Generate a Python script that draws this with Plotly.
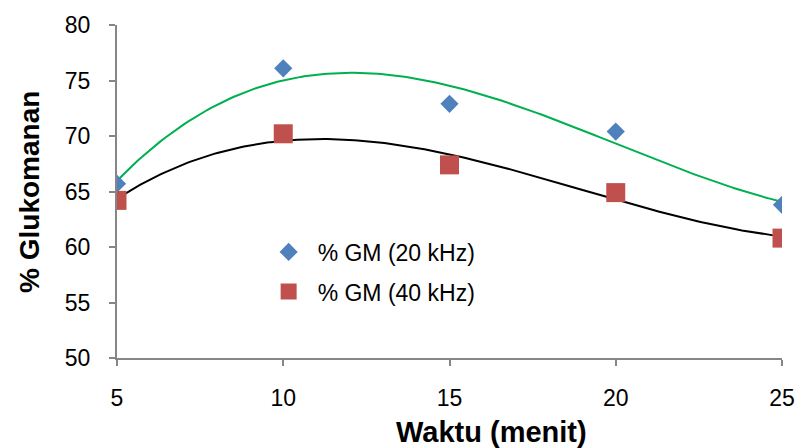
import numpy as np
import plotly.graph_objects as go

waktu = [5, 10, 15, 20, 25]
gm_20khz = [65.7, 76.1, 72.9, 70.4, 63.8]
gm_40khz = [64.2, 70.2, 67.4, 64.9, 60.8]
x_ticks = [5, 10, 15, 20, 25]
y_ticks = [50, 55, 60, 65, 70, 75, 80]

FONT = "Liberation Sans, Arial, sans-serif"

# polynomial (order 3) trendlines, as in the spreadsheet chart
xs = np.linspace(min(waktu), max(waktu), 200)
fit20 = np.polyval(np.polyfit(waktu, gm_20khz, 3), xs)
fit40 = np.polyval(np.polyfit(waktu, gm_40khz, 3), xs)

fig = go.Figure()
fig.add_trace(go.Scatter(x=xs, y=fit20, mode="lines", line=dict(color="#00B050", width=2),
                         showlegend=False, hoverinfo="skip"))
fig.add_trace(go.Scatter(x=xs, y=fit40, mode="lines", line=dict(color="#000000", width=2),
                         showlegend=False, hoverinfo="skip"))
fig.add_trace(go.Scatter(x=waktu, y=gm_20khz, mode="markers", name="% GM (20 kHz)",
                         marker=dict(symbol="diamond", size=14, color="#4F81BD"), legend="legend"))
fig.add_trace(go.Scatter(x=waktu, y=gm_40khz, mode="markers", name="% GM (40 kHz)",
                         marker=dict(symbol="square", size=19, color="#C0504D"), legend="legend2"))

axis_common = dict(showgrid=False, zeroline=False, showline=True, linecolor="#868686", linewidth=2,
                   ticks="outside", tickcolor="#868686", ticklen=6, tickwidth=2,
                   tickfont=dict(family=FONT, size=23, color="#000000"))

FW, FH = 807, 448
L, T, W, H = 117, 22, 676, 336

legend_common = dict(xanchor="left", yanchor="middle", bgcolor="rgba(0,0,0,0)", itemwidth=48,
                     font=dict(family=FONT, size=23, color="#000000"))

fig.update_layout(
    width=FW, height=FH,
    margin=dict(l=L, r=FW - L - W, t=T, b=FH - T - H),
    paper_bgcolor="white", plot_bgcolor="white",
    font=dict(family=FONT, color="#000000"),
    xaxis=dict(range=[5, 25], tickvals=x_ticks, ticklabelstandoff=12, **axis_common),
    yaxis=dict(range=[50, 80], tickvals=y_ticks, ticklabelstandoff=14, **axis_common),
    legend=dict(x=(262 - L) / W, y=(T + H - 251) / H, **legend_common),
    legend2=dict(x=(262 - L) / W, y=(T + H - 291) / H, **legend_common),
    annotations=[
        dict(text="<b>Waktu (menit)</b>", xref="paper", yref="paper", x=(498 - L) / W, y=(T + H - 433) / H,
             xanchor="center", yanchor="middle", showarrow=False,
             font=dict(family=FONT, size=29, color="#000000")),
        dict(text="<b>% Glukomanan</b>", xref="paper", yref="paper", x=(28 - L) / W, y=0.5,
             xanchor="center", yanchor="middle", showarrow=False, textangle=-90,
             font=dict(family=FONT, size=28, color="#000000")),
    ],
)

fig.write_html("out.html", config={"displayModeBar": False},
               post_script="document.body.style.margin='0';document.body.style.overflow='hidden';")
